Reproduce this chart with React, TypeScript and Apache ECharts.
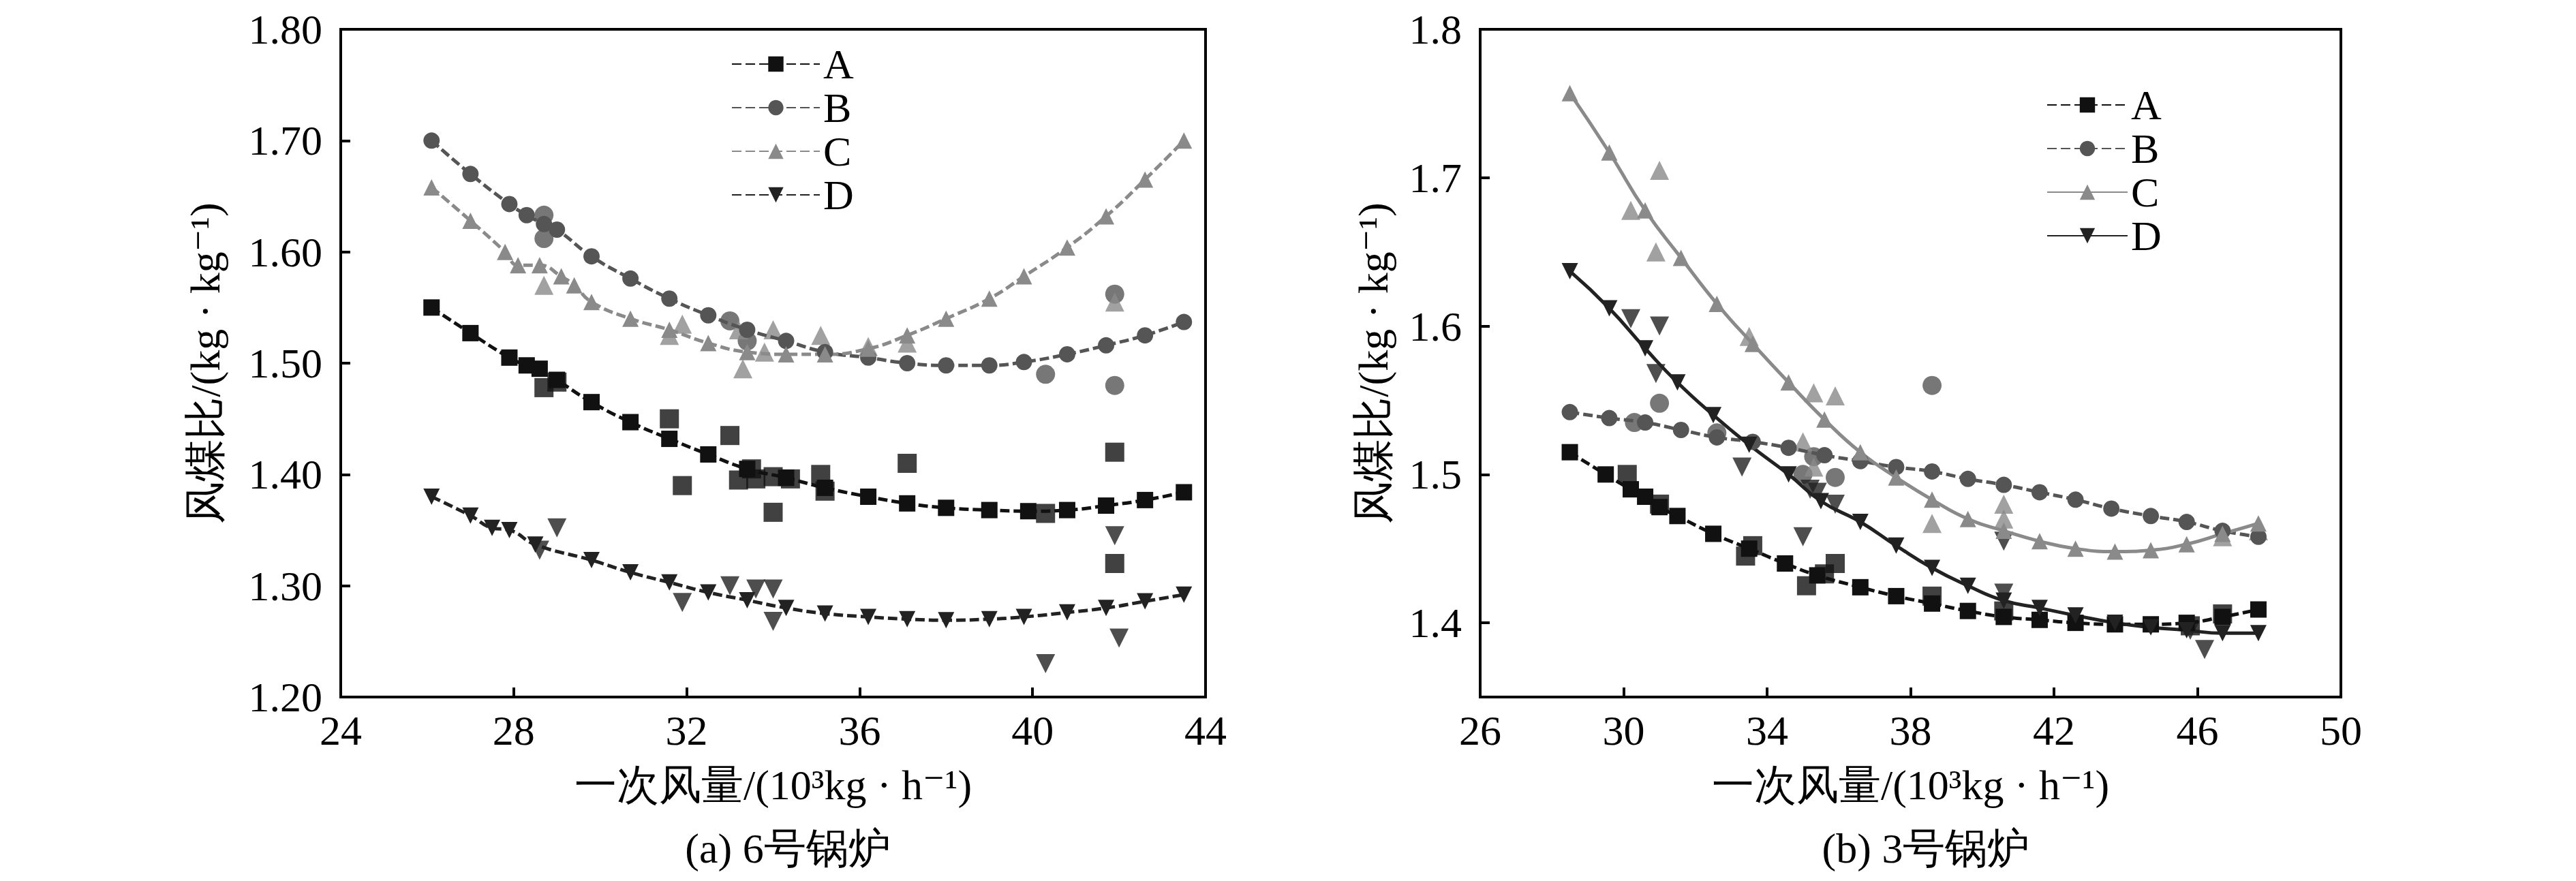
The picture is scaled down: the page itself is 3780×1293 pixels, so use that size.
import React, { useEffect, useRef } from "react";
import * as echarts from "echarts";

const names = ["A", "B", "C", "D"];
const symbols = ["rect", "circle", "triangle", "path://M0,0 L10,0 L5,10 Z"];
const colors = ["#111111", "#555555", "#8a8a8a", "#222222"];

// Left panel (a) 6号锅炉: fitted curves (x,y) and measured outliers
const leftFitA = [[26.1,1.55],[27,1.527],[27.9,1.505],[28.3,1.498],[28.6,1.495],[29,1.485],[29.8,1.465],[30.7,1.447],[31.6,1.432],[32.5,1.418],[33.4,1.405],[34.3,1.397],[35.2,1.388],[36.2,1.38],[37.1,1.374],[38,1.37],[39,1.368],[39.9,1.367],[40.8,1.368],[41.7,1.372],[42.6,1.377],[43.5,1.384]];
const leftPtsA = [[28.7,1.478],[29,1.483],[31.6,1.45],[31.9,1.39],[33,1.435],[33.2,1.395],[33.5,1.405],[33.6,1.396],[34,1.398],[34,1.366],[34.4,1.396],[35.1,1.4],[35.2,1.385],[37.1,1.41],[40.3,1.365],[41.9,1.42],[41.9,1.32]];
const leftFitB = [[26.1,1.7],[27,1.67],[27.9,1.643],[28.3,1.633],[28.7,1.625],[29,1.62],[29.8,1.596],[30.7,1.576],[31.6,1.558],[32.5,1.543],[33.4,1.53],[34.3,1.52],[35.2,1.51],[36.2,1.505],[37.1,1.5],[38,1.498],[39,1.498],[39.8,1.501],[40.8,1.508],[41.7,1.516],[42.6,1.525],[43.5,1.537]];
const leftPtsB = [[28.7,1.633],[28.7,1.612],[33,1.538],[33.4,1.52],[40.3,1.49],[41.9,1.48],[41.9,1.562]];
const leftFitC = [[26.1,1.658],[27,1.628],[27.8,1.6],[28.1,1.588],[28.6,1.588],[29.1,1.578],[29.4,1.57],[29.8,1.555],[30.7,1.54],[31.6,1.53],[32.5,1.518],[33.4,1.51],[34.3,1.508],[35.2,1.508],[36.2,1.513],[37.1,1.525],[38,1.54],[39,1.558],[39.8,1.578],[40.8,1.604],[41.7,1.632],[42.6,1.665],[43.5,1.7]];
const leftPtsC = [[28.7,1.57],[31.6,1.525],[31.9,1.535],[33.2,1.53],[33.3,1.495],[33.8,1.51],[34,1.53],[35.1,1.525],[36.2,1.515],[37.1,1.518],[41.9,1.555]];
const leftFitD = [[26.1,1.38],[27,1.363],[27.5,1.352],[27.9,1.35],[28.5,1.337],[29.8,1.323],[30.7,1.312],[31.6,1.303],[32.5,1.294],[33.4,1.287],[34.3,1.28],[35.2,1.275],[36.2,1.272],[37.1,1.27],[38,1.269],[39,1.27],[39.8,1.272],[40.8,1.276],[41.7,1.28],[42.6,1.286],[43.5,1.292]];
const leftPtsD = [[28.6,1.332],[29,1.352],[31.9,1.285],[33,1.3],[33.6,1.297],[34,1.297],[34,1.268],[40.3,1.23],[41.9,1.345],[42,1.253]];

// Right panel (b) 3号锅炉
const rightFitA = [[28.5,1.515],[29.5,1.5],[30.2,1.49],[30.6,1.485],[31,1.478],[31.5,1.472],[32.5,1.46],[33.5,1.45],[34.5,1.44],[35.4,1.432],[36.6,1.424],[37.6,1.418],[38.6,1.413],[39.6,1.408],[40.6,1.404],[41.6,1.402],[42.6,1.4],[43.7,1.399],[44.7,1.399],[45.7,1.4],[46.7,1.404],[47.7,1.409]];
const rightPtsA = [[30.1,1.5],[31,1.48],[33.4,1.445],[33.6,1.452],[35.1,1.425],[35.6,1.433],[35.9,1.44],[38.6,1.418],[40.6,1.408],[45.8,1.398],[46.7,1.406]];
const rightFitB = [[28.5,1.542],[29.6,1.538],[30.6,1.535],[31.6,1.53],[32.6,1.525],[33.6,1.522],[34.6,1.518],[35.6,1.513],[36.6,1.509],[37.6,1.505],[38.6,1.502],[39.6,1.497],[40.6,1.493],[41.6,1.488],[42.6,1.483],[43.6,1.477],[44.7,1.472],[45.7,1.468],[46.7,1.462],[47.7,1.458]];
const rightPtsB = [[30.3,1.535],[31,1.548],[32.6,1.528],[35,1.5],[35.3,1.512],[35.9,1.498],[38.6,1.56]];
const rightFitC = [[28.5,1.757],[29.6,1.717],[30.6,1.678],[31.6,1.646],[32.6,1.615],[33.6,1.588],[34.6,1.562],[35.6,1.537],[36.6,1.515],[37.6,1.498],[38.6,1.483],[39.6,1.47],[40.6,1.462],[41.6,1.455],[42.6,1.45],[43.7,1.448],[44.7,1.449],[45.7,1.453],[46.7,1.46],[47.7,1.467]];
const rightPtsC = [[30.2,1.678],[31,1.705],[30.9,1.65],[33.5,1.593],[35.3,1.555],[35.9,1.553],[35,1.522],[35.3,1.505],[38.6,1.467],[40.6,1.48],[40.6,1.47],[46.7,1.458],[47.7,1.462]];
const rightFitD = [[28.5,1.637],[29.6,1.612],[30.6,1.585],[31.5,1.562],[32.5,1.54],[33.5,1.52],[34.6,1.5],[35.5,1.482],[36.6,1.468],[37.6,1.452],[38.6,1.437],[39.6,1.425],[40.6,1.415],[41.6,1.41],[42.6,1.405],[43.7,1.4],[44.7,1.397],[45.7,1.395],[46.7,1.393],[47.7,1.393]];
const rightPtsD = [[30.2,1.605],[30.9,1.568],[31,1.6],[33.3,1.505],[35,1.458],[35.2,1.49],[35.4,1.488],[35.9,1.48],[40.6,1.455],[40.6,1.42],[45.8,1.395],[46.2,1.382]];

const rightYTicks = [1.4, 1.5, 1.6, 1.7, 1.8];

const leftFits = [leftFitA, leftFitB, leftFitC, leftFitD];
const leftPts = [leftPtsA, leftPtsB, leftPtsC, leftPtsD];
const rightFits = [rightFitA, rightFitB, rightFitC, rightFitD];
const rightPts = [rightPtsA, rightPtsB, rightPtsC, rightPtsD];
const rightDashed = [true, true, false, false];

const FONT = "'Liberation Serif', 'Times New Roman', 'DejaVu Serif', serif";
const FS = 62;

export default function App() {
  const ref = useRef<HTMLDivElement>(null);
  useEffect(() => {
    const chart = echarts.init(ref.current!, null, { renderer: "svg" });
    const series: any[] = [];
    const mk = (gi: number, fits: any[], pts: any[], dashed: boolean[]) => {
      fits.forEach((f, i) => {
        series.push({
          type: "line", name: gi === 0 ? names[i] : names[i] + " ", xAxisIndex: gi, yAxisIndex: gi,
          data: f, smooth: true, symbol: symbols[i], symbolSize: 24,
          lineStyle: { color: colors[i], width: 5, type: dashed[i] ? [14, 6] : "solid" },
          itemStyle: { color: colors[i] },
        });
        series.push({
          type: "scatter", xAxisIndex: gi, yAxisIndex: gi, data: pts[i],
          symbol: symbols[i], symbolSize: 28, itemStyle: { color: colors[i] },
        });
      });
    };
    mk(0, leftFits, leftPts, [true, true, true, true]);
    mk(1, rightFits, rightPts, rightDashed);
    const axisCommon = {
      axisLine: { show: true, lineStyle: { color: "#000", width: 4 } },
      axisTick: { inside: true, length: 14, lineStyle: { color: "#000", width: 4 } },
      splitLine: { show: false },
      axisLabel: { color: "#000", fontFamily: FONT, fontSize: FS },
      nameTextStyle: { color: "#000", fontFamily: FONT, fontSize: FS },
    };
    const legendCommon = {
      orient: "vertical", itemHeight: 28, itemGap: 2,
      textStyle: { color: "#000", fontFamily: FONT, fontSize: FS, lineHeight: 60 },
    };
    chart.setOption({
      animation: false,
      backgroundColor: "#fff",
      grid: [
        { left: 492, top: 35, width: 1269, height: 980, show: true, borderColor: "#000", borderWidth: 4 },
        { left: 2164, top: 35, width: 1263, height: 980, show: true, borderColor: "#000", borderWidth: 4 },
      ],
      xAxis: [
        { ...axisCommon, gridIndex: 0, type: "value", min: 24, max: 44, interval: 4, name: "一次风量/(10³kg · h⁻¹)", nameLocation: "middle", nameGap: 98,
          axisLabel: { ...axisCommon.axisLabel, margin: 18 } },
        { ...axisCommon, gridIndex: 1, type: "value", min: 26, max: 50, interval: 4, name: "一次风量/(10³kg · h⁻¹)", nameLocation: "middle", nameGap: 98,
          axisLabel: { ...axisCommon.axisLabel, margin: 18 } },
      ],
      yAxis: [
        { ...axisCommon, gridIndex: 0, type: "value", min: 1.2, max: 1.8, interval: 0.1, name: "风煤比/(kg · kg⁻¹)", nameLocation: "middle", nameGap: 168,
          axisLabel: { ...axisCommon.axisLabel, margin: 27, formatter: (v: number) => v.toFixed(2) } },
        { ...axisCommon, gridIndex: 1, type: "value", min: 1.35, max: 1.8, name: "风煤比/(kg · kg⁻¹)", nameLocation: "middle", nameGap: 126,
          axisTick: { ...axisCommon.axisTick, customValues: rightYTicks },
          axisLabel: { ...axisCommon.axisLabel, margin: 27, customValues: rightYTicks, formatter: (v: number) => v.toFixed(1) } },
      ],
      legend: [
        { ...legendCommon, left: 1060, top: 50, itemWidth: 129, data: names },
        { ...legendCommon, left: 2990, top: 110, itemWidth: 118, data: names.map((n) => n + " ") },
      ],
      graphic: [
        { type: "text", x: 1148, y: 1237, style: { text: "(a) 6号锅炉", fontFamily: FONT, fontSize: FS, fill: "#000", align: "center", verticalAlign: "middle" } },
        { type: "text", x: 2818, y: 1237, style: { text: "(b) 3号锅炉", fontFamily: FONT, fontSize: FS, fill: "#000", align: "center", verticalAlign: "middle" } },
      ],
      series,
    });
    return () => chart.dispose();
  }, []);
  return <div ref={ref} style={{ width: 3764, height: 1277 }} />;
}
